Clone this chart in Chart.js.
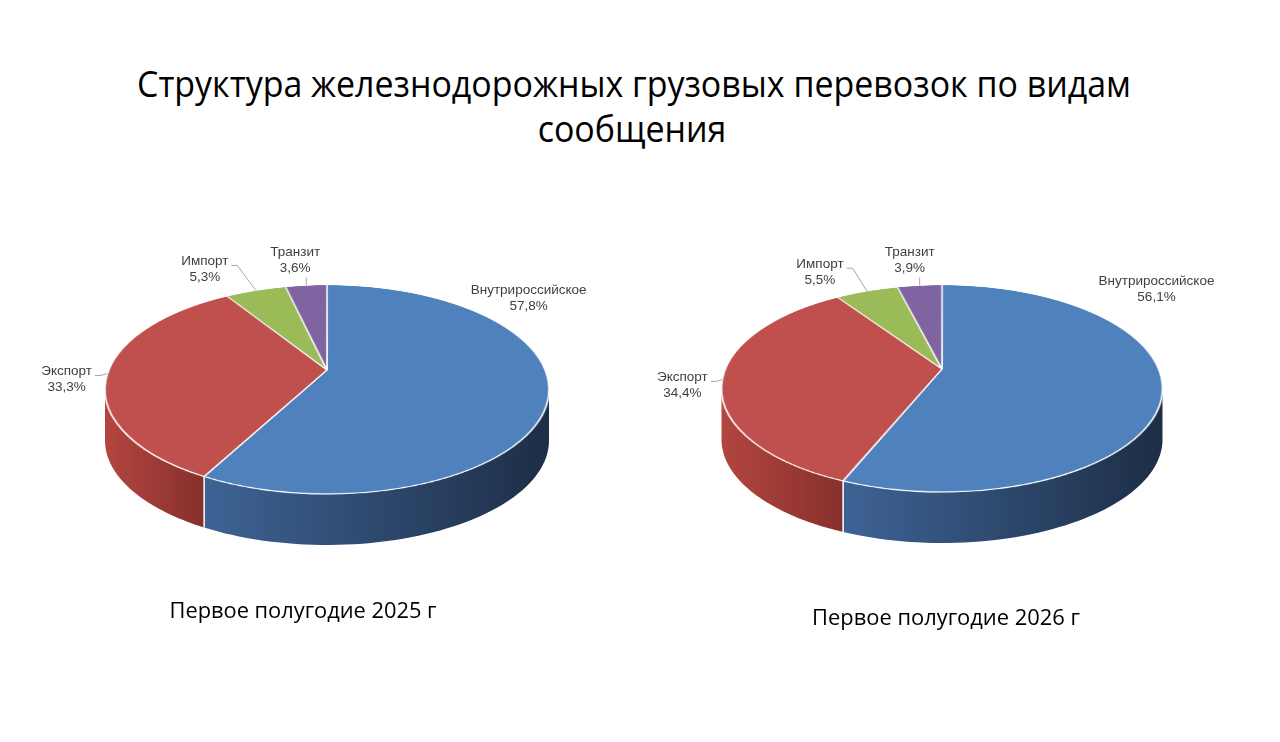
<!DOCTYPE html>
<html>
<head>
<meta charset="utf-8">
<script src="https://cdn.jsdelivr.net/npm/chart.js@4.4.1/dist/chart.umd.min.js"></script>
<style>
  body { margin: 0; width: 1280px; height: 742px; background: #fff; overflow: hidden; position: relative; }
  .txt { position: absolute; white-space: nowrap; font-family: "Open Sans", sans-serif; color: #000; transform-origin: center; }
  .title { font-size: 37px; line-height: 44px; }
  .period { font-size: 22px; line-height: 30px; }
  canvas { position: absolute; top: 0; }
</style>
</head>
<body>
<div class="txt title" id="t1" style="left:634px;top:61px">Структура железнодорожных грузовых перевозок по видам</div>
<div class="txt title" id="t2" style="left:632px;top:106px">сообщения</div>
<canvas id="pieLeft" width="640" height="742" style="left:0"></canvas>
<canvas id="pieRight" width="640" height="742" style="left:640px"></canvas>
<div class="txt period" id="p1" style="left:303px;top:594px"></div>
<div class="txt period" id="p2" style="left:946px;top:601px"></div>
<script>
var categories = ['Внутрироссийское', 'Экспорт', 'Импорт', 'Транзит'];
var shares2025 = [57.8, 33.3, 5.3, 3.6];
var shares2026 = [56.1, 34.4, 5.5, 3.9];
var periods = ['Первое полугодие 2025 г', 'Первое полугодие 2026 г'];

var sliceColors = ['#4F81BD', '#C0504D', '#9BBB59', '#8064A2'];
// side wall gradient, light (left) to dark (right)
var sideColors = [['#3E6395', '#1D2E46'], ['#B3453F', '#86302D'], ['#7A9444', '#5E7434'], ['#654F82', '#4C3B62']];

// perspective of a tilted disc: back edge, centre and front edge of the top face
function makeProjector(cx, o) {
  var T = o.top, M = o.apex, F = o.front;
  var C = (2 * M - F - T) / (F - T);
  var A = M - T + T * C;
  var K = o.halfWidth * Math.sqrt(1 - C * C);
  return {
    C: C, K: K,
    pt: function(t, s) {
      var d = 1 + C * s;
      return { x: cx + K * t / d, y: (A * s + M) / d };
    },
    sAt: function(y) { return (M - y) / (y * C - A); }
  };
}

var pie3d = {
  id: 'pie3d',
  afterDatasetsDraw: function(chart, args, o) {
    var ctx = chart.ctx, canvas = chart.canvas;
    var dpr = chart.currentDevicePixelRatio || 1;
    var arcs = chart.getDatasetMeta(0).data;
    var values = chart.data.datasets[0].data;
    var cx = arcs[0].x, cyc = arcs[0].y, R = arcs[0].outerRadius;
    var pr = makeProjector(cx, o);

    // take the flat pie Chart.js drew, then redraw it tilted
    var off = document.createElement('canvas');
    off.width = canvas.width;
    off.height = canvas.height;
    off.getContext('2d').drawImage(canvas, 0, 0);
    ctx.save();
    ctx.setTransform(1, 0, 0, 1, 0, 0);
    ctx.clearRect(0, 0, canvas.width, canvas.height);
    ctx.restore();

    // front wall
    var a0 = Math.asin(Math.min(Math.max(-pr.C, -1), 1));
    arcs.forEach(function(arc, i) {
      var a1 = Math.max(arc.startAngle, a0);
      var a2 = Math.min(arc.endAngle, Math.PI - a0);
      if (a2 <= a1) return;
      var n = 60, top = [], k;
      for (k = 0; k <= n; k++) {
        var a = a1 + (a2 - a1) * k / n;
        top.push(pr.pt(Math.cos(a), Math.sin(a)));
      }
      var g = ctx.createLinearGradient(top[n].x, 0, top[0].x, 0);
      g.addColorStop(0, sideColors[i][0]);
      g.addColorStop(1, sideColors[i][1]);
      ctx.save();
      ctx.fillStyle = g;
      ctx.beginPath();
      ctx.moveTo(top[0].x, top[0].y);
      for (k = 1; k <= n; k++) ctx.lineTo(top[k].x, top[k].y);
      for (k = n; k >= 0; k--) ctx.lineTo(top[k].x, top[k].y + o.depth);
      ctx.closePath();
      ctx.fill();
      [arc.startAngle, arc.endAngle].forEach(function(a) {
        if (a > a0 + 0.01 && a < Math.PI - a0 - 0.01) {
          var p = pr.pt(Math.cos(a), Math.sin(a));
          ctx.strokeStyle = '#f2f2f2';
          ctx.lineWidth = 1.5;
          ctx.beginPath();
          ctx.moveTo(p.x, p.y);
          ctx.lineTo(p.x, p.y + o.depth);
          ctx.stroke();
        }
      });
      ctx.restore();
    });

    // top face, row by row
    ctx.save();
    ctx.imageSmoothingQuality = 'high';
    var w = R + 3;
    for (var y = Math.floor(o.top) - 3; y < Math.ceil(o.front) + 3; y++) {
      var s0 = pr.sAt(y), s1 = pr.sAt(y + 1), sm = pr.sAt(y + 0.5);
      var sy0 = cyc + s0 * R, sy1 = cyc + s1 * R;
      var m = pr.K / (R * (1 + pr.C * sm));
      ctx.drawImage(off, (cx - w) * dpr, sy0 * dpr, 2 * w * dpr, (sy1 - sy0) * dpr,
        cx - w * m, y, 2 * w * m, 1);
    }
    ctx.restore();

    // data labels
    ctx.save();
    ctx.font = '13.5px "Liberation Sans", Arial, sans-serif';
    ctx.textAlign = 'center';
    ctx.textBaseline = 'middle';
    arcs.forEach(function(arc, i) {
      var mid = (arc.startAngle + arc.endAngle) / 2;
      var p = pr.pt(Math.cos(mid), Math.sin(mid));
      var lx = p.x + o.labelOffsets[i][0], ly = p.y + o.labelOffsets[i][1];
      var lines = [chart.data.labels[i], values[i].toFixed(1).replace('.', ',') + '%'];
      var tw = Math.max(ctx.measureText(lines[0]).width, ctx.measureText(lines[1]).width);
      var left = lx - tw / 2, right = lx + tw / 2, bottom = ly + 16;

      if (arc.endAngle - arc.startAngle < Math.PI) {
        var pts;
        if (p.x > right + 4) pts = [[right + 3, ly - 4], [right + 9, ly - 4], [p.x, p.y]];
        else if (p.x < left - 4) pts = [[left - 3, ly - 4], [left - 9, ly - 4], [p.x, p.y]];
        else pts = [[p.x, bottom + 1], [p.x, p.y]];
        ctx.strokeStyle = '#a6a6a6';
        ctx.lineWidth = 1;
        ctx.beginPath();
        ctx.moveTo(pts[0][0], pts[0][1]);
        for (var j = 1; j < pts.length; j++) ctx.lineTo(pts[j][0], pts[j][1]);
        ctx.stroke();
      }
      ctx.fillStyle = '#404040';
      ctx.fillText(lines[0], lx, ly - 8);
      ctx.fillText(lines[1], lx, ly + 8);
    });
    ctx.restore();
  }
};

function makePie(id, values, padding, opts) {
  return new Chart(document.getElementById(id), {
    type: 'pie',
    data: {
      labels: categories,
      datasets: [{
        data: values,
        backgroundColor: sliceColors,
        borderColor: '#ffffff',
        borderWidth: 1.6,
        radius: 222
      }]
    },
    options: {
      responsive: false,
      animation: false,
      events: [],
      layout: { padding: padding },
      plugins: {
        legend: { display: false },
        tooltip: { enabled: false },
        pie3d: opts
      }
    },
    plugins: [pie3d]
  });
}

makePie('pieLeft', shares2025, { left: 14, right: 0 }, {
  top: 285, apex: 370, front: 494, halfWidth: 222, depth: 51,
  labelOffsets: [[-20, -97], [-41, 6], [-51, -21], [-11, -25]]
});
makePie('pieRight', shares2026, { left: 0, right: 36 }, {
  top: 285, apex: 369, front: 492, halfWidth: 220.5, depth: 51,
  labelOffsets: [[-6, -100], [-40, 6], [-47, -19], [-10, -25]]
});

document.getElementById('p1').textContent = periods[0];
document.getElementById('p2').textContent = periods[1];

// Calibri in the original is narrower, so stretch the text to its width
function fit(el, target) {
  var w = el.getBoundingClientRect().width;
  var s = target / w;
  el.style.transform = 'translateX(-50%) scaleX(' + s + ')';
  return s;
}
var s = fit(document.getElementById('t1'), 994);
document.getElementById('t2').style.transform = 'translateX(-50%) scaleX(' + s + ')';
fit(document.getElementById('p1'), 267);
fit(document.getElementById('p2'), 268);
</script>
</body>
</html>
